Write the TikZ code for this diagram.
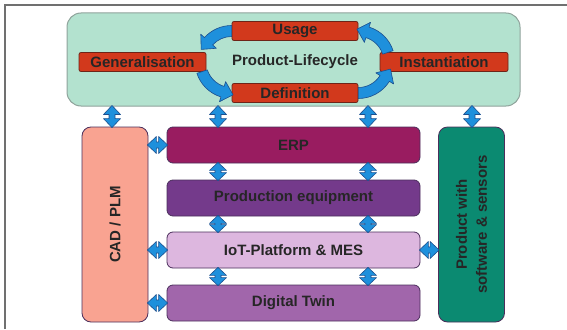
\documentclass[tikz,border=0pt]{standalone}
\usepackage{fontspec}
\setmainfont{Liberation Sans}
\usetikzlibrary{calc}
\definecolor{mint}{HTML}{B3E2CF}
\definecolor{mintline}{HTML}{8FA39B}
\definecolor{redfill}{HTML}{D2391C}
\definecolor{redline}{HTML}{6E2418}
\definecolor{arrowblue}{HTML}{1E90DC}
\definecolor{arrowline}{HTML}{1C4F8E}
\definecolor{cadfill}{HTML}{F9A391}
\definecolor{erpfill}{HTML}{991C60}
\definecolor{prodfill}{HTML}{743A8B}
\definecolor{iotfill}{HTML}{DDB7DF}
\definecolor{twinfill}{HTML}{A166AB}
\definecolor{tealfill}{HTML}{0B8A71}
\definecolor{boxline}{HTML}{4B2F5C}
\definecolor{txt}{HTML}{262626}
\definecolor{framegray}{HTML}{707070}
\tikzset{
  lbl/.style={font=\fontsize{15}{20}\selectfont\bfseries, text=txt, align=center},
  redbox/.style={lbl, draw=redline, fill=redfill, line width=0.8pt, rounded corners=2pt, inner sep=0pt, minimum height=19pt},
  layerbox/.style={lbl, draw=boxline, line width=0.8pt, rounded corners=6pt, inner sep=0pt, minimum width=253pt, minimum height=36pt},
  sidebox/.style={draw=boxline, line width=0.8pt, rounded corners=9pt, inner sep=0pt, minimum width=66pt, minimum height=195pt},
  blk/.style={draw=arrowline, fill=arrowblue, line width=0.6pt, line join=round},
}
% vertical double block arrow: [head length]{upper point}{lower point}
\newcommand\vdbl[3][8]{\draw[blk] let \p1=(#2), \p2=(#3) in
 (\x1,\y1+1pt) -- (\x1+8.5pt,\y1-#1pt) -- (\x1+3pt,\y1-#1pt) -- (\x1+3pt,\y2+#1pt) -- (\x1+8.5pt,\y2+#1pt)
 -- (\x1,\y2-1pt) -- (\x1-8.5pt,\y2+#1pt) -- (\x1-3pt,\y2+#1pt) -- (\x1-3pt,\y1-#1pt) -- (\x1-8.5pt,\y1-#1pt) -- cycle;}
% horizontal double block arrow: [head length]{left point}{right point}
\newcommand\hdbl[3][8]{\draw[blk] let \p1=(#2), \p2=(#3) in
 (\x1-1pt,\y1) -- (\x1+#1pt,\y1+8.5pt) -- (\x1+#1pt,\y1+3pt) -- (\x2-#1pt,\y1+3pt) -- (\x2-#1pt,\y1+8.5pt)
 -- (\x2+1pt,\y1) -- (\x2-#1pt,\y1-8.5pt) -- (\x2-#1pt,\y1-3pt) -- (\x1+#1pt,\y1-3pt) -- (\x1+#1pt,\y1-8.5pt) -- cycle;}
% curved block arrow: {center}{start angle}{end angle}, counter-clockwise
\newcommand\cycarrow[3]{\draw[blk] ($(#1)+(#2:36.5)$) arc[start angle=#2, end angle=#3, radius=36.5]
 -- ($(#1)+(#3:41.5)$) -- ($(#1)+(#3:31)+({#3+90}:11)$) -- ($(#1)+(#3:20.5)$) -- ($(#1)+(#3:25.5)$)
 arc[start angle=#3, end angle=#2, radius=25.5] -- cycle;}
\begin{document}
\begin{tikzpicture}[x=1pt,y=1pt]
\useasboundingbox (0,0) rectangle (567,-329);
\draw[framegray, line width=1.2pt] (5,-329) -- (5,-5) -- (567,-5);
% top lifecycle box
\node[draw=mintline, fill=mint, line width=1pt, rounded corners=14pt, minimum width=453pt, minimum height=93pt] (top) at (293.5,-59.5) {};
\node[redbox, minimum width=126pt] (usage) at (295,-31) {Usage};
\node[redbox, minimum width=127pt] (gen) at (142.5,-62) {Generalisation};
\node[redbox, minimum width=128pt] (inst) at (444,-62) {Instantiation};
\node[redbox, minimum width=126pt] (def) at (295,-93) {Definition};
\node[lbl] (plc) at (295,-62) {Product-Lifecycle};
\coordinate (lc) at (usage.west |- gen.east);
\coordinate (rc) at (usage.east |- inst.west);
\cycarrow{lc}{90}{138}
\cycarrow{lc}{198}{253}
\cycarrow{rc}{270}{328}
\cycarrow{rc}{18}{73}
% lower boxes
\node[sidebox, fill=cadfill] (cad) at (115,-224.5) {};
\node[lbl, rotate=90] (cadt) at (cad.center) {CAD / PLM};
\node[layerbox, fill=erpfill] (erp) at (293.5,-145) {ERP};
\node[layerbox, fill=prodfill] (prod) at (293.5,-198) {Production equipment};
\node[layerbox, fill=iotfill] (iot) at (293.5,-250) {IoT-Platform \& MES};
\node[layerbox, fill=twinfill] (twin) at (293.5,-303) {Digital Twin};
\node[sidebox, fill=tealfill] (psw) at (471.5,-224.5) {};
\node[lbl, rotate=90] (pswt) at (psw.center) {Product with\\software \& sensors};
% column positions
\coordinate (c1) at (112,0);
\coordinate (c2) at (218,0);
\coordinate (c3) at (368,0);
\coordinate (c4) at (472,0);
% arrows from top box
\vdbl{top.south -| c1}{cad.north -| c1}
\vdbl{top.south -| c2}{erp.north -| c2}
\vdbl{top.south -| c3}{erp.north -| c3}
\vdbl{top.south -| c4}{psw.north -| c4}
% arrows between layers
\vdbl[7]{erp.south -| c2}{prod.north -| c2}
\vdbl[7]{erp.south -| c3}{prod.north -| c3}
\vdbl[7]{prod.south -| c2}{iot.north -| c2}
\vdbl[7]{prod.south -| c3}{iot.north -| c3}
\vdbl[7]{iot.south -| c2}{twin.north -| c2}
\vdbl[7]{iot.south -| c3}{twin.north -| c3}
% horizontal arrows
\hdbl{cad.east |- erp.west}{erp.west}
\hdbl{cad.east |- iot.west}{iot.west}
\hdbl{cad.east |- twin.west}{twin.west}
\hdbl{iot.east}{psw.west |- iot.east}
\end{tikzpicture}
\end{document}
